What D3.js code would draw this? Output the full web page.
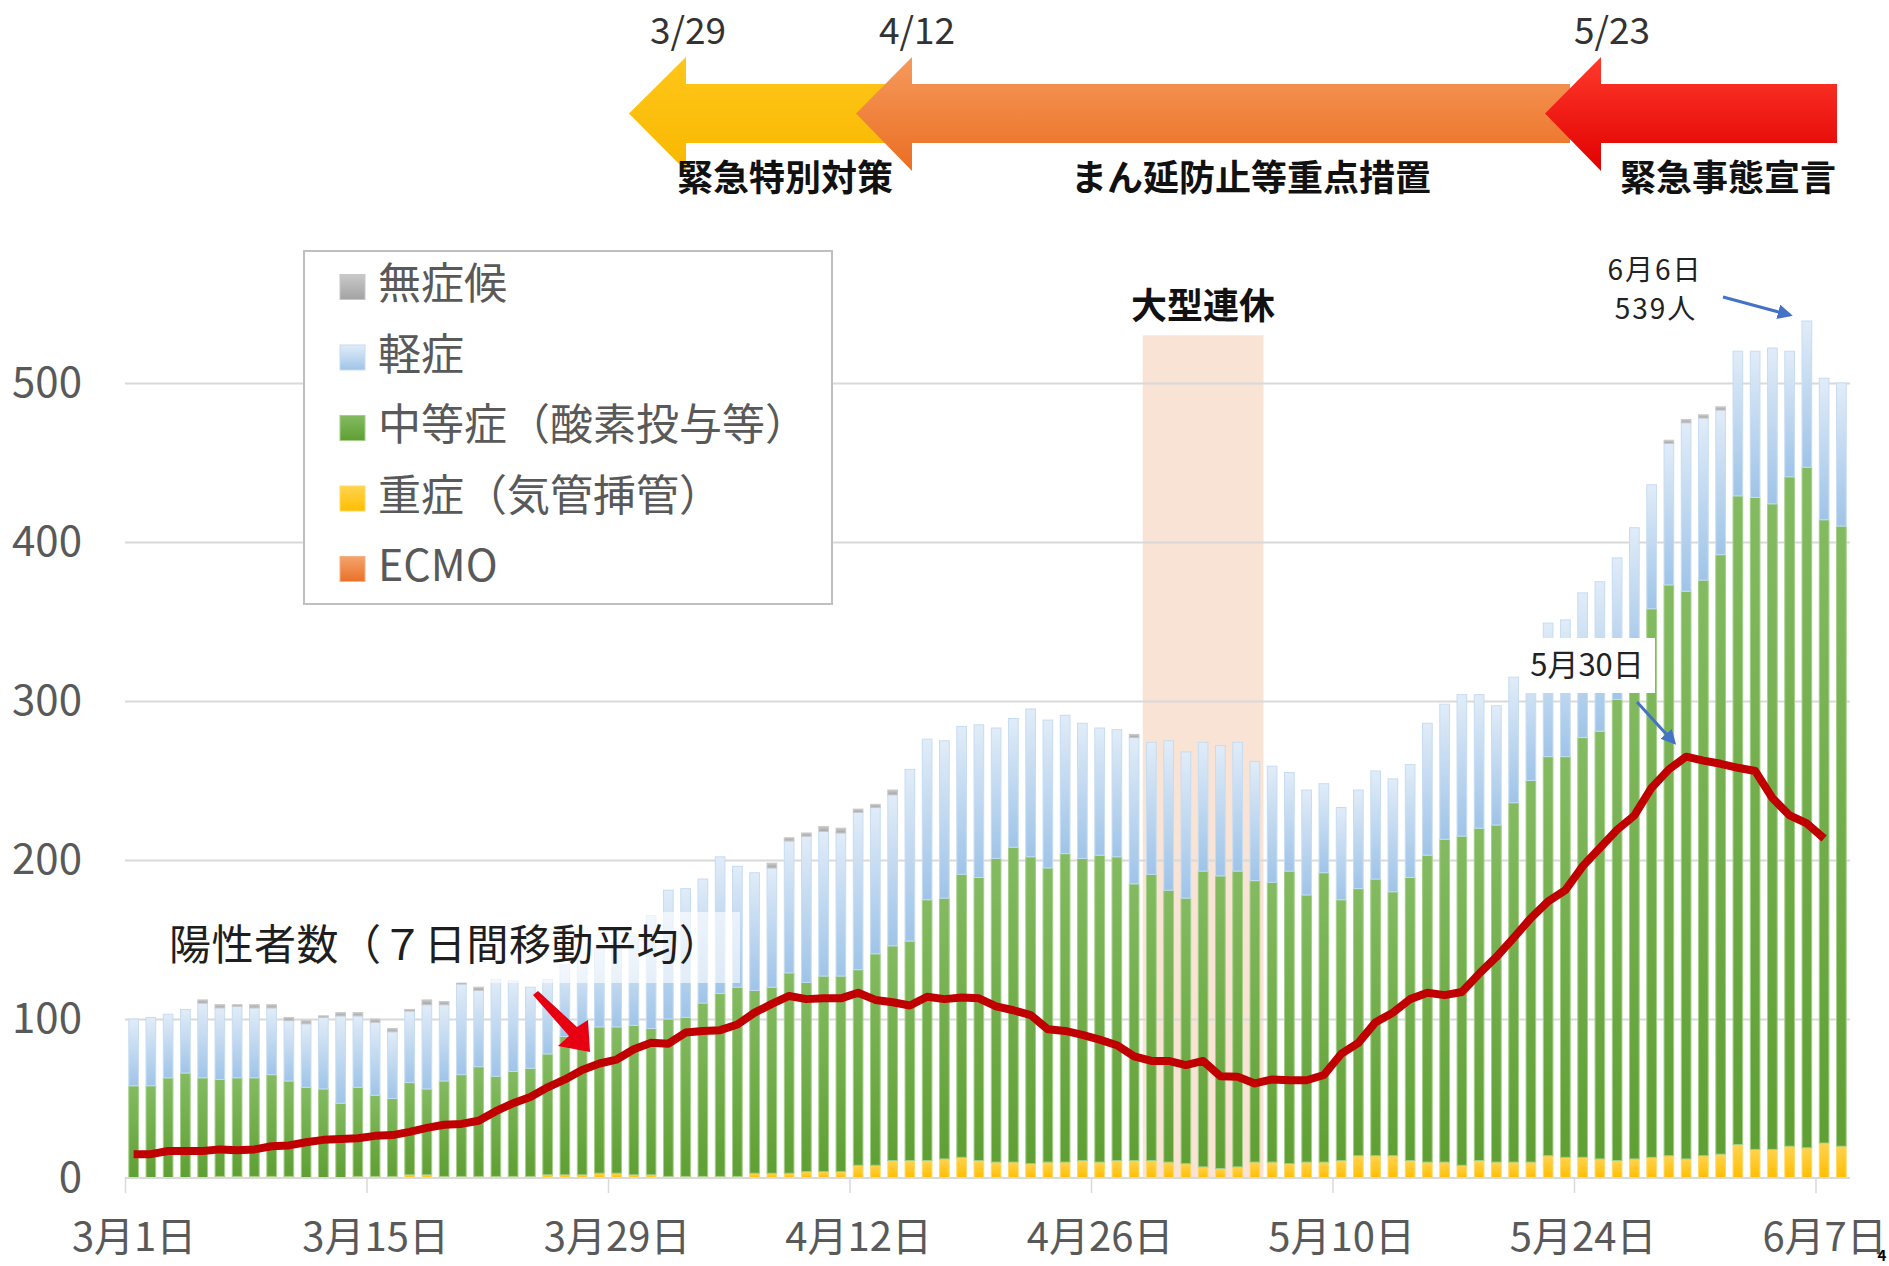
<!DOCTYPE html>
<html>
<head>
<meta charset="utf-8">
<script src="https://cdn.jsdelivr.net/npm/d3@7"></script>
<style>
  html, body { margin: 0; padding: 0; background: #fff; }
  svg { display: block; font-family: "Noto Sans CJK JP", "Noto Sans", sans-serif; }
</style>
</head>
<body>
<svg id="chart" width="1889" height="1266"></svg>
<script>
// Inpatients by severity (stacked bars) + 7-day moving average of positives

// ─────────────────────────────────────────────
// Data (3/1 .. 6/8, one value per day)
// ─────────────────────────────────────────────
const days = d3.timeDay.range(new Date(2021, 2, 1), new Date(2021, 5, 9)); // 100 days

const ecmo = [
  0,0,0,0,0, 0,0,0,0,0, 0,0,0,0,0, 0,0,0,0,0,
  0,0,0,0,0, 0,0,0,0,0, 0,0,0,0,0, 0,0,0,0,0,
  0,0,0,0,0, 0,0,0,0,0, 0,0,0,0,0, 0,0,0,0,0,
  0,0,0,0,0, 0,0,0,0,0, 0,0,0,0,0, 0,0,0,0,0,
  0,0,0,0,0, 0,0,0,0,0, 0,0,0,0,0, 0,0,0,0,0
];

const severe = [
  0,0,0,0,0, 1,1,1,1,1, 0,0,0,1,1, 1,2,2,1,1,
  1,1,1,1,2, 2,2,3,3,2, 2,1,1,1,1, 1,3,3,3,4,
  4,4,8,8,11, 11,11,12,13,11, 10,10,9,10,10, 11,10,11,11,11,
  10,9,7,6,7, 10,10,9,10,10, 11,14,14,14,11, 10,10,8,11,10,
  10,10,14,13,13, 12,11,12,13,14, 12,14,15,21,18, 18,20,19,22,20
];

const moderate = [
  58,58,63,66,63, 61,62,62,64,60, 57,56,47,56,51, 49,58,54,60,64,
  69,63,66,68,76, 87,91,92,92,94, 92,99,100,109,115, 119,115,117,126,119,
  123,123,123,133,135, 138,164,164,178,178, 191,198,193,185,194, 190,193,191,174,180,
  171,167,186,184,186, 177,176,184,168,182, 164,168,174,166,178, 193,203,207,209,212,
  226,240,251,252,264, 269,290,310,345,359, 357,362,377,408,410, 406,421,428,392,390
];

const mild = [
  42,43,40,40,47, 45,45,44,42,38, 40,45,55,45,46, 42,45,53,48,57,
  48,61,57,51,47, 45,44,50,53,56, 71,81,81,78,86, 76,74,75,83,92,
  91,90,99,92,95, 108,101,99,93,96, 82,81,93,93,87, 85,80,80,92,83,
  94,92,81,82,81, 75,73,62,66,56, 58,62,68,71,71, 83,85,89,84,75,
  79,75,84,86,91, 94,89,87,78,89, 106,102,91,91,92, 98,79,92,89,90
];

const asym = [
  0,0,0,0,2, 2,1,2,2,2, 2,1,2,2,2, 2,1,3,2,1,
  2,0,0,0,0, 0,0,0,0,0, 0,0,0,0,0, 0,0,3,2,2,
  3,3,2,2,3, 0,0,0,0,0, 0,0,0,0,0, 0,0,0,2,0,
  0,0,0,0,0, 0,0,0,0,0, 0,0,0,0,0, 0,0,0,0,0,
  0,0,0,0,0, 0,0,0,0,2, 2,2,2,0,0, 0,0,0,0,0
];

// 7-day moving average of positives (no value yet for the last day)
const movingAvg = [
  15,15,17,17,17, 18,17.5,18,20,20.5, 22.5,24,24.5,25,26.5, 27,29,31.5,33.5,34,
  36,42,47,51,57, 62,68,72,74.5,81, 85,84.5,91.5,92.5,93, 96.5,104,109.5,114.5,112.5,
  113,113,116.5,112,110.5, 108.5,114,112.5,113.5,113, 108,105.5,102.5,93.5,92.5, 90,87,83.5,76.5,73.6,
  73.6,71,73.6,64,63.7, 59.5,62,61.5,61.5,64.8, 78,85,98,104,112.5, 116.5,115,117,128.5,139,
  151,163.5,174,181,196, 207.5,219,228,245.5,257, 265,262.5,260.5,258,256, 239,228,223,213.5,null
];

const yTicks = [0, 100, 200, 300, 400, 500];
const xTickDays = [0, 14, 28, 42, 56, 70, 84, 98];
const xTickLabels = ["3月1日", "3月15日", "3月29日", "4月12日", "4月26日", "5月10日", "5月24日", "6月7日"];

const seriesKeys = ["ecmo", "severe", "moderate", "mild", "asym"]; // bottom -> top
const legendItems = [
  { key: "asym", label: "無症候" },
  { key: "mild", label: "軽症" },
  { key: "moderate", label: "中等症（酸素投与等）" },
  { key: "severe", label: "重症（気管挿管）" },
  { key: "ecmo", label: "ECMO" }
];

// holiday period (大型連休) 4/29 .. 5/5
const holidayFrom = 59, holidayTo = 66;

// ─────────────────────────────────────────────
// Layout + scales
// ─────────────────────────────────────────────
const svg = d3.select("#chart");
const plot = { left: 125, right: 1850, bottom: 1178 };

const x = d3.scaleBand()
  .domain(d3.range(days.length))
  .range([plot.left, plot.right])
  .paddingInner(0.44)
  .paddingOuter(0.22);
const step = x.step();
const cx = i => x(i) + x.bandwidth() / 2;

// boundary scale (ticks sit between categories)
const xb = d3.scaleLinear().domain([0, days.length]).range([plot.left, plot.right]);

const y = d3.scaleLinear().domain([0, 500]).range([plot.bottom, 383]);

const rows = days.map((d, i) => ({
  i, ecmo: ecmo[i], severe: severe[i], moderate: moderate[i], mild: mild[i], asym: asym[i]
}));
const stacked = d3.stack().keys(seriesKeys)(rows);

// ─────────────────────────────────────────────
// Gradients
// ─────────────────────────────────────────────
const defs = svg.append("defs");
const fills = {
  asym:     ["#c9c9c9", "#a3a3a3"],
  mild:     ["#e1ecf8", "#9fc4e8"],
  moderate: ["#84bb62", "#5f9f33"],
  severe:   ["#ffd34f", "#ffbe00"],
  ecmo:     ["#f4a46c", "#ea7028"]
};
function vGrad(id, top, bottom) {
  const g = defs.append("linearGradient").attr("id", id)
    .attr("x1", 0).attr("y1", 0).attr("x2", 0).attr("y2", 1);
  g.append("stop").attr("offset", "0%").attr("stop-color", top);
  g.append("stop").attr("offset", "100%").attr("stop-color", bottom);
}
Object.entries(fills).forEach(([k, c]) => vGrad("g-" + k, c[0], c[1]));
vGrad("g-yellowArrow", "#ffc61a", "#f8b800");
vGrad("g-orangeArrow", "#f69a5c", "#ea6e22");
vGrad("g-redArrow", "#ff3a2c", "#e00000");

// ─────────────────────────────────────────────
// Background: holiday band + gridlines
// ─────────────────────────────────────────────
svg.append("rect")
  .attr("x", xb(holidayFrom))
  .attr("width", xb(holidayTo) - xb(holidayFrom))
  .attr("y", y(530))
  .attr("height", y(0) - y(530))
  .attr("fill", "#f9e3d5");

svg.append("g")
  .attr("transform", `translate(${plot.left},0)`)
  .call(d3.axisLeft(y).tickValues(yTicks.slice(1)).tickSize(-(plot.right - plot.left)).tickFormat(""))
  .call(g => g.select(".domain").remove())
  .selectAll("line")
  .attr("stroke", "#d9d9d9")
  .attr("stroke-width", 2);

// y labels
svg.append("g")
  .attr("transform", "translate(82,0)")
  .call(d3.axisLeft(y).tickValues(yTicks).tickSize(0).tickPadding(0))
  .call(g => g.select(".domain").remove())
  .selectAll("text")
  .attr("font-family", "Noto Sans CJK JP")
  .style("font-size", "42px")
  .attr("fill", "#595959");

svg.append("text")
  .attr("x", xb(holidayFrom) + (xb(holidayTo) - xb(holidayFrom)) / 2)
  .attr("y", 319)
  .attr("text-anchor", "middle")
  .attr("font-weight", "bold")
  .attr("font-size", 36)
  .attr("fill", "#111")
  .text("大型連休");

// ─────────────────────────────────────────────
// Stacked bars
// ─────────────────────────────────────────────
const strokeOf = { asym: "#c8c8c8", mild: "#c6dcf2", moderate: "#a3cf88", severe: "#ffd966", ecmo: "#f4b183" };

svg.append("g").selectAll("g")
  .data(stacked)
  .join("g")
  .attr("fill", s => `url(#g-${s.key})`)
  .attr("stroke", s => strokeOf[s.key])
  .attr("stroke-width", 1)
  .selectAll("rect")
  .data(s => s.filter(d => d[1] - d[0] > 0))
  .join("rect")
  .attr("x", d => x(d.data.i))
  .attr("y", d => y(d[1]))
  .attr("width", x.bandwidth())
  .attr("height", d => y(d[0]) - y(d[1]));

// x axis (ticks between categories, labels under the day)
const xAxis = svg.append("g")
  .attr("transform", `translate(0,${plot.bottom})`)
  .call(d3.axisBottom(xb).tickValues(xTickDays).tickSize(15).tickPadding(30)
    .tickFormat((d, i) => xTickLabels[i]));
xAxis.select(".domain").attr("stroke", "#d9d9d9").attr("stroke-width", 2)
  .attr("d", `M${plot.left},0H${plot.right}`);
xAxis.selectAll("line").attr("stroke", "#d9d9d9").attr("stroke-width", 1.5);
xAxis.selectAll("text")
  .attr("x", step / 2)
  .attr("font-family", "Noto Sans CJK JP")
  .style("font-size", "40px")
  .attr("fill", "#595959");

// ─────────────────────────────────────────────
// Moving average line
// ─────────────────────────────────────────────
const line = d3.line()
  .defined(d => d != null)
  .x((d, i) => cx(i))
  .y(d => y(d));

svg.append("path")
  .datum(movingAvg)
  .attr("d", line)
  .attr("fill", "none")
  .attr("stroke", "#c00000")
  .attr("stroke-width", 8)
  .attr("stroke-linejoin", "round");

// label for the line (semi transparent box)
svg.append("rect")
  .attr("x", 160).attr("y", 912)
  .attr("width", 580).attr("height", 71)
  .attr("fill", "#fff").attr("fill-opacity", 0.62);
svg.append("text")
  .attr("x", 169).attr("y", 960)
  .attr("font-size", 42)
  .attr("letter-spacing", 0.5)
  .attr("fill", "#1e1e1e")
  .text("陽性者数（７日間移動平均）");

// red block arrow to the line
svg.append("path")
  .attr("d", "M533,995 L538,991 L577,1027 L588,1020 L590,1052 L558,1046 L569,1036 Z")
  .attr("fill", "#e60012");

// ─────────────────────────────────────────────
// Legend
// ─────────────────────────────────────────────
const legend = svg.append("g");
legend.append("rect")
  .attr("x", 304).attr("y", 251)
  .attr("width", 528).attr("height", 353)
  .attr("fill", "#fff")
  .attr("stroke", "#bfbfbf")
  .attr("stroke-width", 2);

const legendRow = legend.selectAll("g.item")
  .data(legendItems)
  .join("g")
  .attr("class", "item")
  .attr("transform", (d, i) => `translate(340,${287 + i * 70.5})`);
legendRow.append("rect")
  .attr("x", 0).attr("y", -12.5)
  .attr("width", 25).attr("height", 25)
  .attr("fill", d => `url(#g-${d.key})`)
  .attr("stroke", d => strokeOf[d.key]);
legendRow.append("text")
  .attr("x", 38).attr("y", 12)
  .attr("font-size", 43)
  .attr("fill", "#595959")
  .text(d => d.label);

// ─────────────────────────────────────────────
// Annotations
// ─────────────────────────────────────────────
defs.append("marker")
  .attr("id", "blueHead")
  .attr("viewBox", "0 0 10 10")
  .attr("refX", 8).attr("refY", 5)
  .attr("markerWidth", 5).attr("markerHeight", 5)
  .attr("orient", "auto")
  .append("path").attr("d", "M0,0 L10,5 L0,10 Z").attr("fill", "#4472c4");

// peak day 6/6
const peakIdx = 97;
const peakVal = severe[peakIdx] + moderate[peakIdx] + mild[peakIdx] + asym[peakIdx] + ecmo[peakIdx];
svg.append("text")
  .attr("x", 1655).attr("y", 280)
  .attr("text-anchor", "middle")
  .attr("font-size", 28).attr("letter-spacing", 2)
  .attr("fill", "#222")
  .text("6月6日");
svg.append("text")
  .attr("x", 1656).attr("y", 319)
  .attr("text-anchor", "middle")
  .attr("font-size", 28).attr("letter-spacing", 2)
  .attr("fill", "#222")
  .text(peakVal + "人");
svg.append("line")
  .attr("x1", 1723).attr("y1", 297)
  .attr("x2", cx(peakIdx) - 17).attr("y2", y(peakVal) - 6)
  .attr("stroke", "#4472c4").attr("stroke-width", 3)
  .attr("marker-end", "url(#blueHead)");

// 5/30 peak of the moving average
const maPeak = 90;
svg.append("rect")
  .attr("x", 1520).attr("y", 638)
  .attr("width", 135).attr("height", 55)
  .attr("fill", "#fff");
svg.append("text")
  .attr("x", 1587).attr("y", 676)
  .attr("text-anchor", "middle")
  .attr("font-size", 31)
  .attr("fill", "#222")
  .text("5月30日");
svg.append("line")
  .attr("x1", 1637).attr("y1", 702)
  .attr("x2", cx(maPeak) - 12).attr("y2", y(movingAvg[maPeak]) - 14)
  .attr("stroke", "#4472c4").attr("stroke-width", 3)
  .attr("marker-end", "url(#blueHead)");

// ─────────────────────────────────────────────
// Policy arrows at the top
// ─────────────────────────────────────────────
function blockArrow(tip, base, end) {
  const mid = 113.5, bodyTop = 84, bodyBot = 143, headTop = 57, headBot = 171;
  return `M${tip},${mid} L${base},${headTop} L${base},${bodyTop} L${end},${bodyTop} ` +
         `L${end},${bodyBot} L${base},${bodyBot} L${base},${headBot} Z`;
}
const policy = [
  { tip: 629, base: 686, end: 900, fill: "url(#g-yellowArrow)", date: "3/29", dateX: 688, name: "緊急特別対策", nameX: 785 },
  { tip: 856, base: 912, end: 1570, fill: "url(#g-orangeArrow)", date: "4/12", dateX: 917, name: "まん延防止等重点措置", nameX: 1251 },
  { tip: 1545, base: 1601, end: 1837, fill: "url(#g-redArrow)", date: "5/23", dateX: 1612, name: "緊急事態宣言", nameX: 1728 }
];
const pg = svg.append("g");
pg.selectAll("path")
  .data(policy)
  .join("path")
  .attr("d", d => blockArrow(d.tip, d.base, d.end))
  .attr("fill", d => d.fill);
pg.selectAll("text.date")
  .data(policy)
  .join("text")
  .attr("class", "date")
  .attr("x", d => d.dateX)
  .attr("y", 44)
  .attr("text-anchor", "middle")
  .attr("font-size", 37)
  .attr("fill", "#333")
  .text(d => d.date);
pg.selectAll("text.name")
  .data(policy)
  .join("text")
  .attr("class", "name")
  .attr("x", d => d.nameX)
  .attr("y", 191)
  .attr("text-anchor", "middle")
  .attr("font-size", 36)
  .attr("font-weight", "bold")
  .attr("fill", "#111")
  .text(d => d.name);

// page number
svg.append("text")
  .attr("x", 1882).attr("y", 1261)
  .attr("text-anchor", "middle")
  .attr("font-size", 15)
  .attr("font-weight", "bold")
  .text("4");
</script>
</body>
</html>
